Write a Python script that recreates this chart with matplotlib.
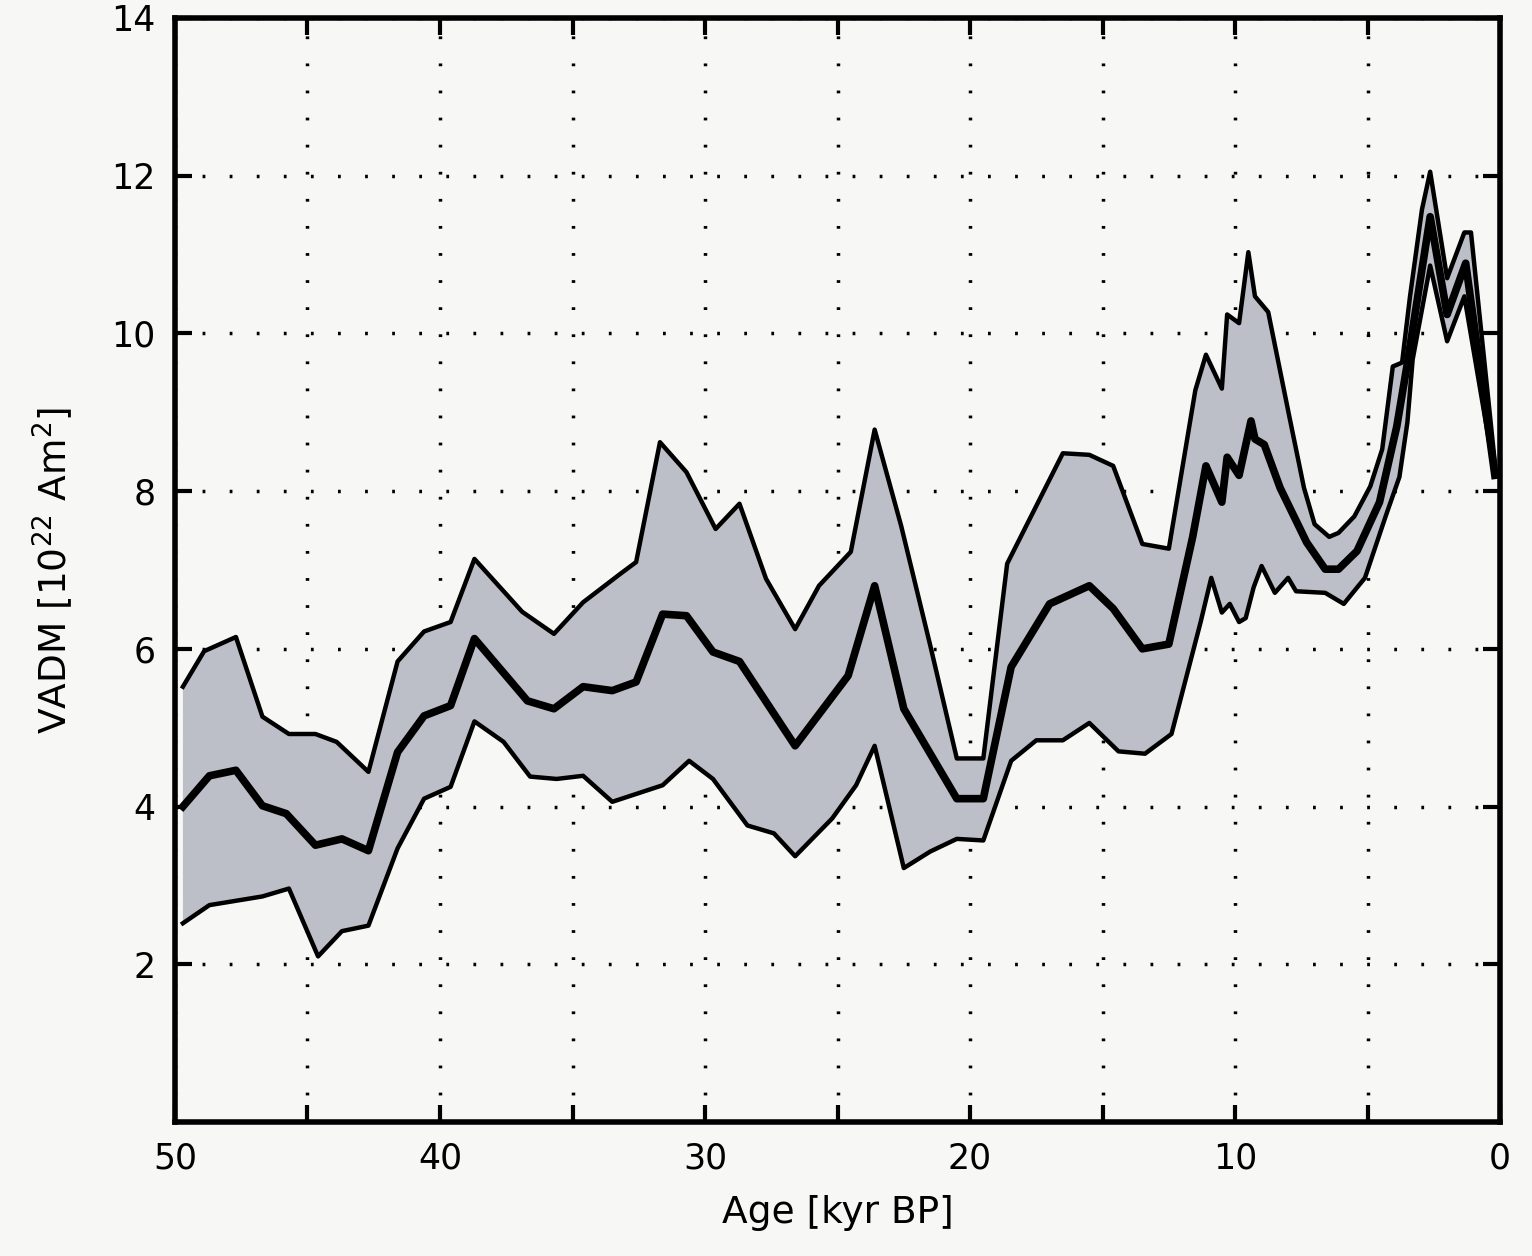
import numpy as np
import matplotlib
matplotlib.use("Agg")
import matplotlib.pyplot as plt

# 上限曲線 (upper bound)
upper_age = [49.7, 48.9, 47.7, 46.7, 45.7, 44.7, 43.9, 42.7, 41.6, 40.6, 39.6, 38.7, 36.9,
             35.7, 34.6, 33.2, 32.6, 31.7, 30.7, 29.6, 28.7, 27.7, 26.6, 25.7, 24.5, 23.6,
             22.6, 21.5, 20.5, 19.5, 18.6, 16.5, 15.5, 14.6, 13.5, 12.5, 11.5, 11.1, 10.5,
             10.3, 9.85, 9.5, 9.25, 8.75, 7.95, 7.4, 7.0, 6.45, 6.1, 5.5, 4.9, 4.45, 4.05,
             3.7, 3.4, 2.95, 2.64, 2.0, 1.35, 1.1, 0.15]
upper_val = [5.52, 5.97, 6.15, 5.14, 4.92, 4.92, 4.82, 4.44, 5.84, 6.22, 6.34, 7.14, 6.47,
             6.19, 6.59, 6.95, 7.10, 8.62, 8.24, 7.52, 7.84, 6.89, 6.25, 6.80, 7.23, 8.78,
             7.56, 6.04, 4.61, 4.61, 7.08, 8.48, 8.46, 8.32, 7.33, 7.27, 9.28, 9.73, 9.30,
             10.24, 10.13, 11.03, 10.47, 10.27, 8.94, 8.04, 7.58, 7.42, 7.47, 7.68, 8.06,
             8.53, 9.58, 9.63, 10.47, 11.57, 12.05, 10.7, 11.28, 11.28, 8.2]

# 平均曲線 (VADM)
mid_age = [49.7, 48.7, 47.7, 46.7, 45.8, 44.7, 43.7, 42.7, 41.6, 40.6, 39.6, 38.7, 36.7,
           35.7, 34.6, 33.5, 32.6, 31.6, 30.7, 29.7, 28.7, 26.6, 24.6, 23.6, 22.5, 20.5,
           19.5, 18.45, 17.0, 15.5, 14.6, 13.5, 12.5, 11.6, 11.1, 10.5, 10.3, 9.85, 9.4,
           9.25, 8.9, 8.3, 7.3, 6.6, 6.1, 5.4, 4.55, 3.9, 3.5, 2.64, 2.0, 1.3, 0.2]
mid_val = [4.0, 4.39, 4.46, 4.01, 3.91, 3.51, 3.59, 3.44, 4.69, 5.15, 5.28, 6.13, 5.34,
           5.24, 5.52, 5.47, 5.58, 6.44, 6.42, 5.96, 5.84, 4.77, 5.66, 6.80, 5.24, 4.10,
           4.10, 5.77, 6.57, 6.80, 6.51, 6.0, 6.06, 7.42, 8.32, 7.86, 8.43, 8.2, 8.89,
           8.66, 8.59, 8.04, 7.35, 7.01, 7.01, 7.24, 7.86, 8.82, 9.62, 11.48, 10.24, 10.89, 8.2]

# 下限曲線 (lower bound)
lower_age = [49.7, 48.7, 46.7, 45.7, 44.6, 43.7, 42.7, 41.6, 40.6, 39.6, 38.7, 37.6, 36.6,
             35.6, 34.6, 33.5, 31.6, 30.6, 29.7, 28.4, 27.4, 26.6, 25.2, 24.3, 23.6, 22.5,
             21.5, 20.5, 19.5, 18.45, 17.5, 16.5, 15.5, 14.4, 13.4, 12.4, 11.3, 10.9, 10.5,
             10.2, 9.85, 9.6, 9.3, 9.0, 8.5, 8.0, 7.7, 6.6, 5.9, 5.1, 4.3, 3.8, 3.5, 3.3,
             2.64, 2.0, 1.35, 0.2]
lower_val = [2.52, 2.75, 2.86, 2.96, 2.10, 2.42, 2.49, 3.47, 4.10, 4.25, 5.08, 4.82, 4.38,
             4.35, 4.39, 4.06, 4.27, 4.58, 4.35, 3.76, 3.66, 3.37, 3.85, 4.27, 4.77, 3.22,
             3.43, 3.59, 3.57, 4.58, 4.84, 4.84, 5.06, 4.70, 4.67, 4.92, 6.34, 6.9, 6.46,
             6.57, 6.34, 6.39, 6.78, 7.05, 6.71, 6.9, 6.73, 6.71, 6.57, 6.9, 7.7, 8.18, 8.87,
             9.67, 10.86, 9.9, 10.47, 8.2]

x_ticks = [50, 40, 30, 20, 10, 0]
y_ticks = [2, 4, 6, 8, 10, 12, 14]

bg = "#f7f7f5"
fig = plt.figure(figsize=(15.32, 12.56), dpi=100, facecolor=bg)
ax = fig.add_axes([0.1142, 0.1067, 0.8650, 0.8790], facecolor=bg)

# 誤差帶
band_x = np.concatenate([upper_age, lower_age[::-1]])
band_y = np.concatenate([upper_val, lower_val[::-1]])
ax.fill(band_x, band_y, color="#bcbfc7", lw=0, zorder=2)
ax.plot(upper_age, upper_val, color="black", lw=3.2, zorder=3)
ax.plot(lower_age, lower_val, color="black", lw=3.2, zorder=3)
ax.plot(mid_age, mid_val, color="black", lw=5.5, zorder=4)

ax.set_xlim(50, 0)
ax.set_ylim(0, 14)
ax.set_xticks(x_ticks)
ax.set_xticks(np.arange(45, 0, -10), minor=True)
ax.set_yticks(y_ticks)

grid_style = dict(color="black", lw=2.5, linestyle=(0, (0.8, 7)), zorder=1)
ax.grid(True, which="both", axis="x", **grid_style)
ax.grid(True, which="major", axis="y", **grid_style)

ax.tick_params(which="both", direction="in", length=12, width=3, top=True, right=True,
               labelsize=25, pad=14)
for sp in ax.spines.values():
    sp.set_linewidth(4)

ax.set_xlabel("Age [kyr BP]", fontsize=27, labelpad=14)
ax.set_ylabel("VADM [10$^{22}$ Am$^2$]", fontsize=27, labelpad=26)

plt.savefig("out.png", dpi=100, facecolor=bg)
